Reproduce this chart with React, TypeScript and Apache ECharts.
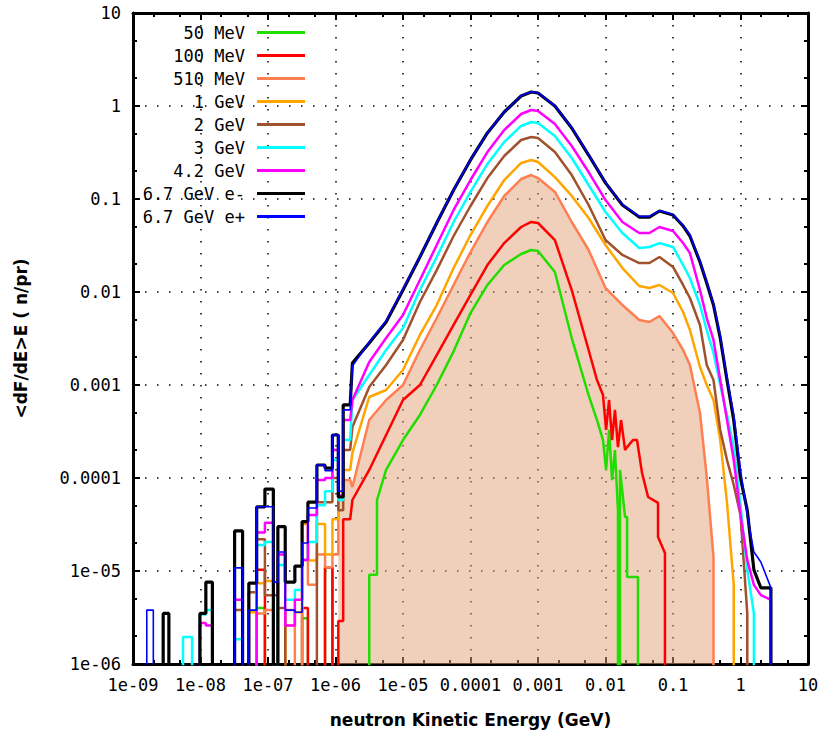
import React, { useEffect, useRef } from "react";
import * as echarts from "echarts";

// ---------- data ----------
const seriesNames = ["50 MeV", "100 MeV", "510 MeV", "1 GeV", "2 GeV", "3 GeV", "4.2 GeV", "6.7 GeV e-", "6.7 GeV e+"];
const seriesColors = ["#22dd00", "#ff0000", "#ff7f50", "#ffa500", "#a0522d", "#00ffff", "#ff00ff", "#000000", "#0000ff"];
const seriesWidths = [2.5, 2.5, 2.5, 2.5, 2.5, 2.5, 2.5, 3.2, 1.6];

const xTickLabels = ["1e-09", "1e-08", "1e-07", "1e-06", "1e-05", "0.0001", "0.001", "0.01", "0.1", "1", "10"];
const yTickLabels = ["1e-06", "1e-05", "0.0001", "0.001", "0.01", "0.1", "1", "10"];
const minorTickMultipliers = [2, 5];

// low-energy histogram bin edges (GeV)
const lowBinEdges = [1.6e-9, 2.0e-9, 2.8e-9, 3.4e-9, 5.5e-9, 7.5e-9, 9.8e-9, 1.2e-8, 1.5e-8, 3.2e-8, 4.2e-8, 5.2e-8, 6.8e-8, 9.0e-8, 1.2e-7, 1.4e-7, 1.8e-7, 2.5e-7, 3.2e-7, 3.9e-7, 5.3e-7, 7.0e-7, 9.0e-7, 1.1e-6, 1.3e-6, 1.65e-6];

// low-energy bin contents per beam (0 = empty bin)
const low50 = [0, 0, 0, 0, 0, 0, 0, 0, 0, 0, 0, 0, 4.0e-6, 0, 0, 0, 0, 0, 3.1e-6, 0, 0, 1.1e-5, 0, 0, 0];
const low100 = [0, 0, 0, 0, 0, 0, 0, 0, 0, 0, 0, 0, 1.03e-5, 0, 0, 0, 0, 0, 4.0e-6, 0, 0, 1.1e-5, 0, 2.9e-6, 3.6e-5];
const low510 = [0, 0, 0, 0, 0, 0, 0, 0, 0, 0, 0, 0, 3.5e-6, 3.8e-6, 0, 0, 3.8e-6, 0, 1.31e-5, 7.1e-6, 1.5e-5, 1.1e-5, 1.5e-5, 5.8e-5, 9.5e-5];
const low1G = [0, 0, 0, 0, 0, 0, 0, 0, 0, 0, 0, 3.6e-6, 7.4e-6, 7.8e-6, 7.6e-6, 0, 2.6e-6, 3.6e-6, 3.2e-5, 1.3e-5, 3.2e-5, 1.5e-5, 3.6e-5, 7.2e-5, 1.22e-4];
const low2G = [0, 0, 0, 0, 0, 0, 0, 0, 0, 3.8e-6, 0, 5.9e-6, 2.2e-5, 5.5e-6, 0, 4.0e-6, 0, 0, 0, 0, 5.5e-5, 5.5e-5, 1.0e-4, 4.5e-5, 2.0e-4];
const low3G = [0, 0, 0, 0, 1.95e-6, 0, 3.4e-6, 3.8e-6, 0, 1.85e-6, 0, 0, 1.9e-5, 2.05e-5, 0, 1.16e-5, 4.9e-6, 6.25e-6, 1.31e-5, 2.05e-5, 5.1e-5, 7.2e-5, 1.56e-4, 5.8e-5, 2.56e-4];
const low42G = [0, 0, 0, 0, 0, 0, 2.76e-6, 2.6e-6, 0, 4.9e-6, 0, 0, 2.6e-5, 3.3e-5, 5.5e-6, 1.5e-5, 2.6e-6, 4.9e-6, 1.31e-5, 4.0e-5, 9.5e-5, 1.0e-4, 2.0e-4, 6.5e-5, 4.2e-4];
const low67Gm = [0, 0, 3.5e-6, 0, 0, 0, 3.5e-6, 7.6e-6, 0, 2.7e-5, 0, 7.4e-6, 4.9e-5, 7.6e-5, 0, 3.0e-5, 7.6e-6, 1.13e-5, 3.4e-5, 5.5e-5, 1.38e-4, 1.28e-4, 2.9e-4, 6.25e-5, 6.1e-4];
const low67Gp = [3.8e-6, 0, 0, 0, 0, 0, 0, 0, 0, 1.08e-5, 0, 3.8e-6, 4.9e-5, 4.9e-5, 7.6e-6, 1.6e-5, 3.8e-6, 3.6e-6, 2.0e-5, 4.75e-5, 1.38e-4, 1.2e-4, 2.9e-4, 7.2e-5, 5.4e-4];

// main spectrum sampling energies (GeV)
const bodyEnergy = [1.78e-6, 3.16e-6, 5.62e-6, 1e-5, 1.78e-5, 3.16e-5, 5.62e-5, 1e-4, 1.78e-4, 3.16e-4, 5.62e-4, 7.94e-4, 1e-3, 1.78e-3, 3.16e-3, 5.62e-3, 0.01, 0.0178, 0.0316, 0.0447, 0.063, 0.1, 0.141, 0.178, 0.251, 0.316, 0.398, 0.501, 0.631, 0.794, 1.0, 1.26, 1.58, 2.0, 2.82];

const body50 = [0, 9.1e-6, 1.22e-4, 2.56e-4, 4.76e-4, 1.0e-3, 2.3e-3, 5.94e-3, 0.0119, 0.0195, 0.0256, 0.0283, 0.0276, 0.0164, 3.2e-3, 7.8e-4];
const body100 = [5.8e-5, 1.22e-4, 2.9e-4, 6.9e-4, 1.0e-3, 2.1e-3, 4.42e-3, 9.29e-3, 0.0195, 0.0336, 0.05, 0.0566, 0.0552, 0.0362, 0.0105, 2.38e-3];
const body510 = [8.0e-5, 4.2e-4, 6.9e-4, 1.0e-3, 2.38e-3, 5.25e-3, 0.0119, 0.0269, 0.0566, 0.1077, 0.164, 0.181, 0.168, 0.119, 0.0566, 0.0283, 0.01105, 0.00724, 0.005, 0.00476, 0.00552, 0.00362, 0.00238, 0.00164, 5.0e-4, 1.03e-4, 1.41e-5, 0, 0, 0, 0, 0, 0, 0, 0];
const body1G = [1.86e-4, 7.43e-4, 8.84e-4, 1.45e-3, 3.45e-3, 7.24e-3, 0.0181, 0.041, 0.0841, 0.16, 0.244, 0.263, 0.25, 0.172, 0.108, 0.0625, 0.032, 0.0181, 0.0116, 0.01105, 0.0119, 0.00976, 0.00609, 0.0039, 0.00156, 0.001, 6.9e-4, 2.56e-4, 5.4e-5, 7.1e-6, 0, 0, 0, 0, 0];
const body2G = [3.53e-4, 9.5e-4, 1.64e-3, 3.05e-3, 7.8e-3, 0.0172, 0.04, 0.0841, 0.168, 0.29, 0.431, 0.464, 0.453, 0.32, 0.181, 0.0862, 0.0362, 0.025, 0.0205, 0.0205, 0.0238, 0.0186, 0.0119, 0.00862, 0.00442, 0.00164, 0.00113, 3.28e-4, 1.56e-4, 8.4e-5, 4.0e-5, 3.5e-6, 0, 0, 0];
const body3G = [6.9e-4, 1.28e-3, 2.38e-3, 4.1e-3, 0.0105, 0.0238, 0.0566, 0.119, 0.238, 0.41, 0.61, 0.673, 0.656, 0.476, 0.276, 0.1415, 0.0725, 0.0431, 0.0297, 0.0305, 0.0336, 0.0305, 0.0195, 0.01415, 0.00724, 0.0039, 0.00221, 0.001, 4.76e-4, 2.15e-4, 5.1e-5, 1.03e-5, 3.5e-6, 0, 0];
const body42G = [6.9e-4, 1.77e-3, 3.2e-3, 5.66e-3, 0.01346, 0.032, 0.0762, 0.16, 0.32, 0.552, 0.82, 0.906, 0.884, 0.64, 0.371, 0.195, 0.0975, 0.0566, 0.0431, 0.0431, 0.05, 0.0453, 0.0336, 0.0262, 0.0105, 0.00525, 0.00305, 0.00113, 4.2e-4, 1.56e-4, 4.0e-5, 1.31e-5, 7.1e-6, 5.5e-6, 4.9e-6];
const body67Gm = [1.72e-3, 2.83e-3, 4.76e-3, 0.0105, 0.0238, 0.0552, 0.125, 0.263, 0.513, 0.862, 1.28, 1.415, 1.38, 1.0, 0.58, 0.297, 0.149, 0.0862, 0.064, 0.064, 0.0743, 0.0673, 0.0513, 0.04, 0.021, 0.0125, 0.00724, 0.0032, 0.00113, 4.2e-4, 1.0e-4, 4.5e-5, 1.03e-5, 6.6e-6, 6.6e-6];
const body67Gp = [1.6e-3, 2.9e-3, 4.9e-3, 0.0108, 0.024, 0.056, 0.126, 0.265, 0.515, 0.865, 1.29, 1.42, 1.39, 1.0, 0.585, 0.3, 0.15, 0.087, 0.065, 0.065, 0.075, 0.068, 0.052, 0.041, 0.0215, 0.0128, 0.0075, 0.0034, 0.0012, 4.8e-4, 1.22e-4, 4.0e-5, 1.6e-5, 1.25e-5, 6.6e-6];

// extra [energy, value] samples (tails, fluctuations)
const extra50: [number, number][] = [
  [4.12e-6, 9.1e-6], [4.12e-6, 5.8e-5],
  [7.48e-3, 4.2e-4], [9.18e-3, 2.56e-4], [1.02e-2, 1.22e-4], [1.13e-2, 3.3e-4], [1.25e-2, 9.5e-5],
  [1.38e-2, 2.0e-4], [1.53e-2, 4.5e-5], [1.53e-2, 0], [1.64e-2, 1.22e-4], [1.95e-2, 3.8e-5],
  [2.09e-2, 3.8e-5], [2.09e-2, 8.6e-6], [3.03e-2, 8.6e-6],
];
const extra100: [number, number][] = [
  [7.48e-3, 1.13e-3], [9.18e-3, 7.8e-4], [1.02e-2, 3.3e-4], [1.13e-2, 6.9e-4], [1.25e-2, 2.56e-4],
  [1.38e-2, 5.4e-4], [1.53e-2, 2.15e-4], [1.70e-2, 4.2e-4], [1.95e-2, 2.0e-4], [2.09e-2, 2.15e-4],
  [2.55e-2, 2.56e-4], [2.93e-2, 2.56e-4], [3.48e-2, 1.13e-4], [4.27e-2, 6.25e-5], [6.0e-2, 5.4e-5],
  [6.0e-2, 2.32e-5], [7.6e-2, 1.56e-5],
];

// ---------- helpers ----------
const FLOOR = 1e-8;
type Pt = [number, number];

function histPoints(vals: number[], from = 0): Pt[] {
  const pts: Pt[] = [];
  for (let i = from; i < vals.length; i++) {
    if (vals[i] > 0) {
      pts.push([lowBinEdges[i], vals[i]]);
      pts.push([lowBinEdges[i + 1], vals[i]]);
    } else {
      pts.push([lowBinEdges[i], 0]);
    }
  }
  return pts;
}

function bodyPoints(vals: number[], extra: Pt[]): Pt[] {
  const pts: Pt[] = vals.map((v, i) => [bodyEnergy[i], v] as Pt);
  return [...pts, ...extra].sort((a, b) => a[0] - b[0]);
}

function trace(points: Pt[]): number[][] {
  const out: number[][] = [];
  let prevE = 0;
  let prevV = 0;
  for (const [e, v] of points) {
    if (v > 0) {
      if (prevV <= 0) out.push([Math.log10(e), Math.log10(FLOOR)]);
      out.push([Math.log10(e), Math.log10(v)]);
    } else if (prevV > 0) {
      out.push([Math.log10(prevE), Math.log10(FLOOR)]);
    }
    prevE = e;
    prevV = v;
  }
  if (prevV > 0) out.push([Math.log10(prevE), Math.log10(FLOOR)]);
  return out;
}

function minorTicks(lo: number, hi: number): number[] {
  const out: number[] = [];
  for (let d = lo; d < hi; d++) for (const m of minorTickMultipliers) out.push(d + Math.log10(m));
  return out;
}

const lows = [low50, low100, low510, low1G, low2G, low3G, low42G, low67Gm, low67Gp];
const bodies = [body50, body100, body510, body1G, body2G, body3G, body42G, body67Gm, body67Gp];
const extras: Pt[][] = [extra50, extra100, [], [], [], [], [], [], []];

const MONO = "'DejaVu Sans Mono', monospace";
const SANS = "'DejaVu Sans', sans-serif";

function buildOption() {
  const lineSeries = seriesNames.map((name, k) => ({
    type: "line",
    name,
    data: trace([...histPoints(lows[k]), ...bodyPoints(bodies[k], extras[k])]),
    symbol: "none",
    showSymbol: false,
    clip: true,
    silent: true,
    lineStyle: { color: seriesColors[k], width: seriesWidths[k] },
    itemStyle: { color: seriesColors[k] },
  }));
  const fill = {
    type: "line",
    name: "510 MeV area",
    data: trace([...histPoints(low510, 23), ...bodyPoints(body510, [])]),
    symbol: "none",
    showSymbol: false,
    clip: true,
    silent: true,
    lineStyle: { width: 0, opacity: 0 },
    areaStyle: { color: "#e1a175", opacity: 0.5, origin: "start" },
  };

  const frameLine = { show: true, onZero: false, lineStyle: { color: "#000", width: 3 } };
  const tick = { show: true, inside: true, length: 7, lineStyle: { color: "#000", width: 2 } };
  const noLine = { show: false, onZero: false };
  const grid = { show: true, lineStyle: { color: "#000", width: 1.5, type: [1.5, 10.5] } };
  const labelStyle = { fontFamily: MONO, fontSize: 17, color: "#000" };
  const xMinor = minorTicks(-9, 1);
  const yMinor = minorTicks(-6, 1);
  const minorTick = (vals: number[]) => ({ show: true, inside: true, length: 4, customValues: vals, lineStyle: { color: "#000", width: 2 } });
  const minorX = (position: string) => ({
    type: "value", min: -9, max: 1, position,
    axisLine: noLine, axisTick: minorTick(xMinor), splitLine: { show: false }, axisLabel: { show: false },
  });
  const minorY = (position: string) => ({
    type: "value", min: -6, max: 1, position,
    axisLine: noLine, axisTick: minorTick(yMinor), splitLine: { show: false }, axisLabel: { show: false },
  });

  return {
    animation: false,
    backgroundColor: "#fff",
    grid: { left: 133, right: 15, top: 13, bottom: 69 },
    legend: {
      data: seriesNames,
      orient: "vertical",
      left: 140,
      top: 24,
      padding: 0,
      itemGap: 6,
      itemWidth: 48,
      itemHeight: 3,
      icon: "rect",
      align: "right",
      selectedMode: false,
      formatter: (n: string) => `{t|${n}}`,
      textStyle: {
        rich: {
          t: { width: 105, align: "right", fontFamily: MONO, fontSize: 17, color: "#000", lineHeight: 16, padding: [0, 7, 0, 0] },
        },
      },
    },
    xAxis: [
      {
        type: "value", min: -9, max: 1, interval: 1, position: "bottom",
        axisLine: frameLine, axisTick: tick, splitLine: grid,
        axisLabel: { ...labelStyle, margin: 12, formatter: (v: number) => xTickLabels[Math.round(v) + 9] ?? "" },
        name: "neutron Kinetic Energy (GeV)", nameLocation: "middle", nameGap: 47,
        nameTextStyle: { fontFamily: SANS, fontWeight: "bold", fontSize: 17, color: "#000" },
      },
      {
        type: "value", min: -9, max: 1, interval: 1, position: "top",
        axisLine: frameLine, axisTick: tick, splitLine: { show: false }, axisLabel: { show: false },
      },
      minorX("bottom"),
      minorX("top"),
    ],
    yAxis: [
      {
        type: "value", min: -6, max: 1, interval: 1, position: "left",
        axisLine: frameLine, axisTick: tick, splitLine: grid,
        axisLabel: { ...labelStyle, margin: 12, formatter: (v: number) => yTickLabels[Math.round(v) + 6] ?? "" },
        name: "<dF/dE>E ( n/pr)", nameLocation: "middle", nameGap: 104, nameRotate: 90,
        nameTextStyle: { fontFamily: SANS, fontWeight: "bold", fontSize: 17, color: "#000" },
      },
      {
        type: "value", min: -6, max: 1, interval: 1, position: "right",
        axisLine: frameLine, axisTick: tick, splitLine: { show: false }, axisLabel: { show: false },
      },
      minorY("left"),
      minorY("right"),
    ],
    series: [fill, ...lineSeries],
  };
}

export default function App() {
  const ref = useRef<HTMLDivElement>(null);
  useEffect(() => {
    if (!ref.current) return;
    const chart = echarts.init(ref.current, null, { renderer: "svg" });
    chart.setOption(buildOption() as any);
    return () => chart.dispose();
  }, []);
  return <div ref={ref} style={{ position: "fixed", left: 0, top: 0, width: 823, height: 733, background: "#fff" }} />;
}
